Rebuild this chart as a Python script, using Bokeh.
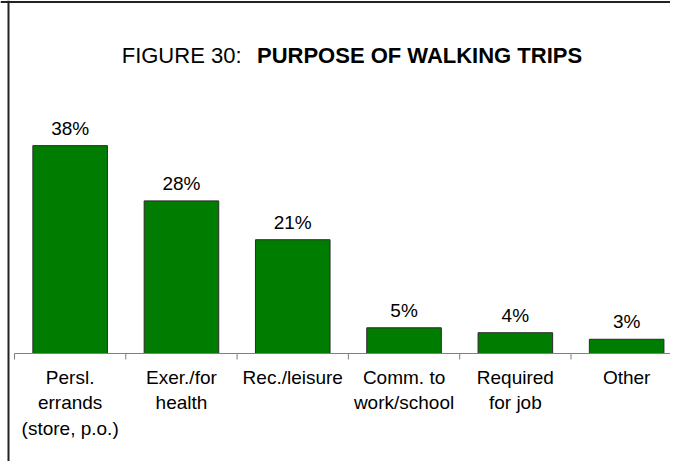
from bokeh.plotting import figure
from bokeh.models import Range1d, ColumnDataSource, Label, Span
from bokeh.core.properties import value
from bokeh.embed import file_html
from bokeh.resources import INLINE

# ---- data ----
categories = ["Persl.\nerrands\n(store, p.o.)", "Exer./for\nhealth", "Rec./leisure",
              "Comm. to\nwork/school", "Required\nfor job", "Other"]
values = [38.0, 27.9, 20.8, 4.7, 3.8, 2.6]
value_labels = ["38%", "28%", "21%", "5%", "4%", "3%"]
title_regular = "FIGURE 30:"
title_bold = "PURPOSE OF WALKING TRIPS"

# ---- layout constants ----
W, H = 670, 461
base_px = 353          # axis line, px from top
ppy = 5.47             # px per percent
cat_px = 111.3         # px per category
left_px = 14           # first tick, px from left
FONT = "Liberation Sans"

n = len(categories)
x_range = Range1d(start=-left_px / cat_px, end=(W - left_px) / cat_px)
y_range = Range1d(start=-(H - base_px) / ppy, end=base_px / ppy)

p = figure(width=W, height=H, x_range=x_range, y_range=y_range,
           toolbar_location=None, output_backend="svg", min_border=0,
           x_axis_location=None, y_axis_location=None)
p.outline_line_color = None
p.background_fill_color = "white"
p.border_fill_color = "white"
p.xgrid.visible = False
p.ygrid.visible = False

xs = [i + 0.5 for i in range(n)]
src = ColumnDataSource(dict(x=xs, top=values, lab=value_labels, cat=categories))

# bars
p.vbar(x="x", top="top", bottom=0, width=0.67, source=src,
       fill_color="#007D00", line_color="#2a2a2a", line_width=1)

# axis line and ticks
p.segment(x0=[0], y0=[0], x1=[n + 1], y1=[0], line_color="#808080", line_width=1)
ticks = list(range(n + 1))
p.segment(x0=ticks, y0=[0] * len(ticks), x1=ticks, y1=[-6 / ppy] * len(ticks),
          line_color="#808080", line_width=1)

# value labels
p.text(x="x", y="top", text="lab", source=src, text_align="center",
       text_baseline="alphabetic", y_offset=-17.5, text_font=value(FONT),
       text_font_size="19px", text_color="black")

# category labels
p.text(x="x", y=0, text="cat", source=src, text_align="center",
       text_baseline="top", y_offset=13, text_font=value(FONT),
       text_font_size="19px", text_color="black", text_line_height=1.23)

# title
p.add_layout(Label(x=241, y=H - 55, x_units="screen", y_units="screen",
                   text=title_regular, text_align="right", text_baseline="alphabetic",
                   text_font=FONT, text_font_size="22px", text_color="black"))
p.add_layout(Label(x=256.5, y=H - 55, x_units="screen", y_units="screen",
                   text=title_bold, text_align="left", text_baseline="alphabetic",
                   text_font=FONT, text_font_size="22px", text_font_style="bold",
                   text_color="black"))

# frame border (left and top)
p.add_layout(Span(location=x_range.start + 8 / cat_px, dimension="height",
                  line_color="#222222", line_width=2))
p.add_layout(Span(location=y_range.end - 1.5 / ppy, dimension="width",
                  line_color="#222222", line_width=2))

open("out.html", "w").write(file_html(p, INLINE))
